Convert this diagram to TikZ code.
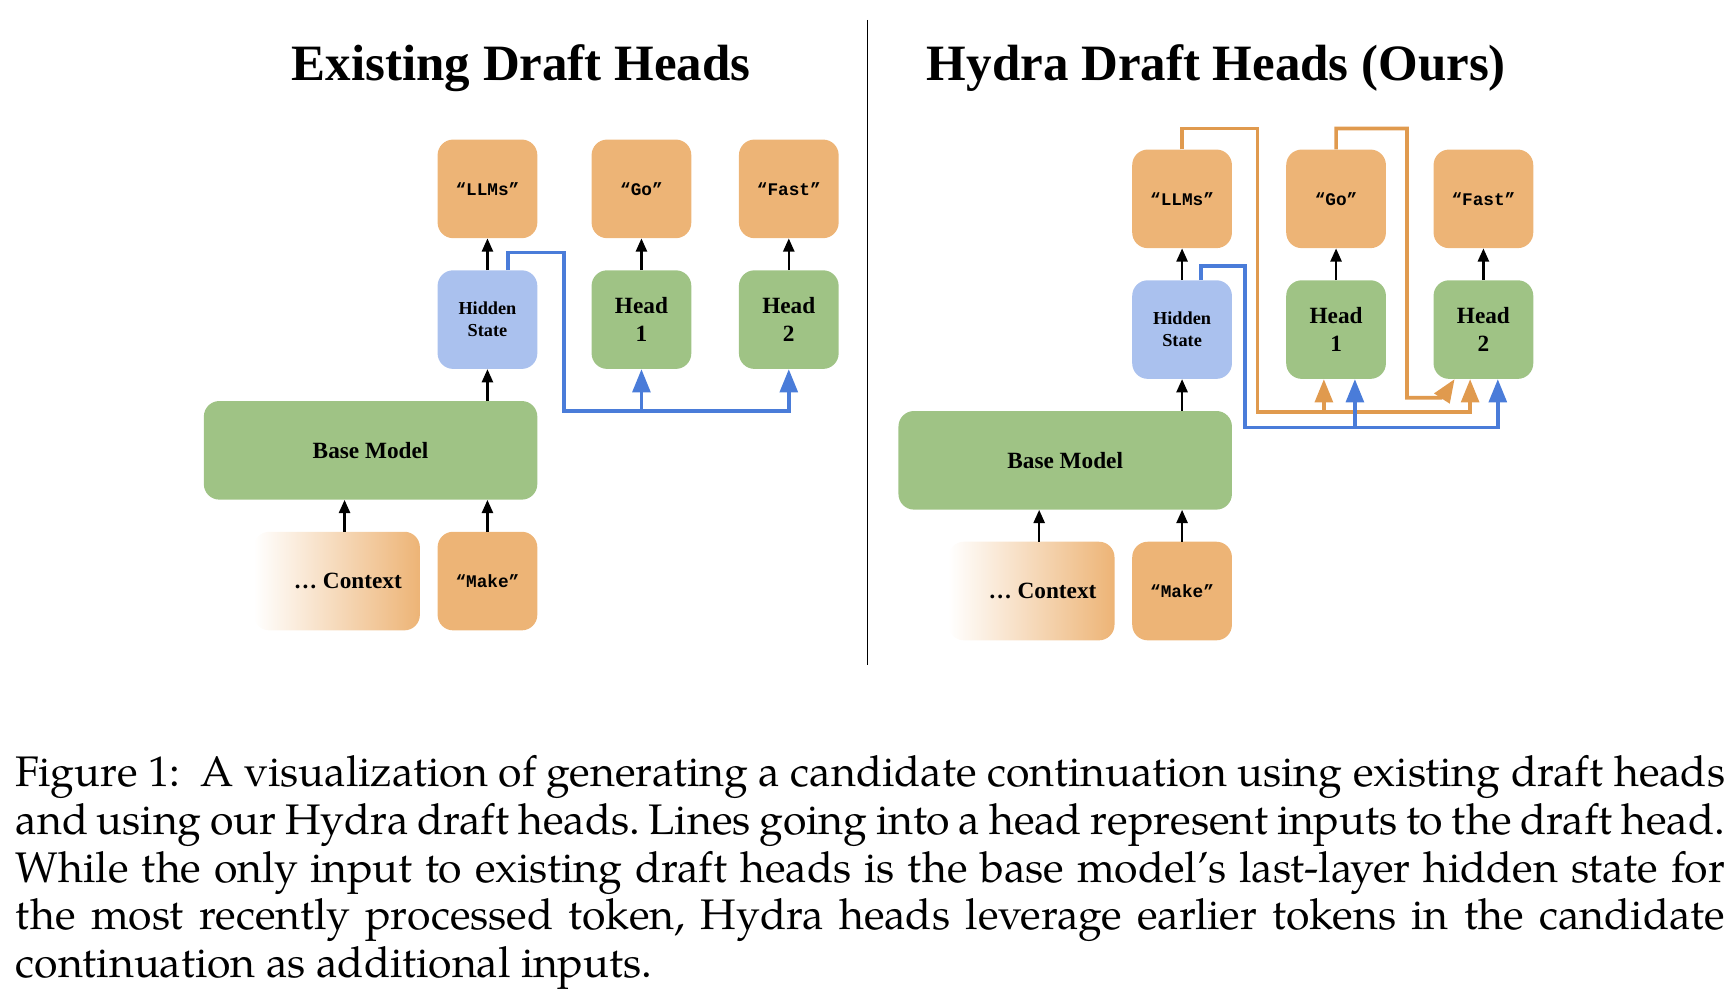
\documentclass[tikz,border=0pt]{standalone}
\usepackage{fontspec}
\setmainfont{Liberation Serif}
\newfontfamily\capfont{TeX Gyre Pagella}
\newfontfamily\tokfont{Liberation Mono}
\usetikzlibrary{arrows.meta}

\definecolor{tokorange}{RGB}{237,180,118}
\definecolor{headgreen}{RGB}{159,195,133}
\definecolor{hidblue}{RGB}{170,193,238}
\definecolor{lineblue}{RGB}{74,124,217}
\definecolor{lineorange}{RGB}{224,154,78}

\tikzset{
  cell/.style={rounded corners=14pt, minimum width=90pt, minimum height=89pt,
    inner sep=0pt, align=center, font=\bfseries\fontsize{21}{24.7}\selectfont},
  tokbox/.style={cell, fill=tokorange, font=\tokfont\bfseries\fontsize{16}{19}\selectfont},
  headbox/.style={cell, fill=headgreen},
  hidbox/.style={cell, fill=hidblue, font=\bfseries\fontsize{16.5}{20}\selectfont},
  basebox/.style={cell, fill=headgreen, minimum width=301pt},
  ctxbox/.style={cell, minimum width=150pt, left color=white, right color=tokorange},
  inarrow/.style={-{Triangle[length=12pt,width=10pt]}, line width=2.2pt},
  feedblue/.style={draw=lineblue, line width=3.3pt, -{Triangle[length=21pt,width=16pt]}},
  feedorange/.style={draw=lineorange, line width=3.3pt, -{Triangle[length=21pt,width=16pt]}},
  paneltitle/.style={anchor=base, font=\bfseries\fontsize{46}{55}\selectfont}
}

\begin{document}
\frenchspacing
\begin{tikzpicture}[node distance=118pt, x=1pt, y=1pt]
\useasboundingbox (0,-4.45) rectangle (1567,900);

% titles and divider
\node[paneltitle] (titleA) at (470.5,827) {Existing Draft Heads};
\node[paneltitle] (titleB) at (1098,827) {Hydra Draft Heads (Ours)};
\draw[line width=1.2pt] (783,882) -- (783,300);

% existing draft heads
\node[hidbox] (hidA) at (440,611.5) {Hidden\\State};
\node[tokbox] (llmA) [above of=hidA] {“LLMs”};
\node[headbox] (headA1) [right of=hidA, xshift=21pt] {Head\\1};
\node[headbox] (headA2) [right of=headA1, xshift=15pt] {Head\\2};
\node[tokbox] (goA) [above of=headA1] {“Go”};
\node[tokbox] (fastA) [above of=headA2] {“Fast”};
\node[basebox] (baseA) [below of=hidA, xshift=-105.5pt] {Base Model};
\node[tokbox] (makeA) [below of=baseA, xshift=105.5pt] {“Make”};
\node[ctxbox] (ctxA) [left of=makeA, xshift=-18pt] {\hspace*{20pt}… Context};

\draw[inarrow] (hidA) -- (llmA);
\draw[inarrow] (headA1) -- (goA);
\draw[inarrow] (headA2) -- (fastA);
\draw[inarrow] (baseA.north -| hidA) -- (hidA);
\draw[inarrow] ([xshift=7pt]ctxA.north) -- ([xshift=7pt]ctxA.north |- baseA.south);
\draw[inarrow] (makeA) -- (makeA |- baseA.south);

\coordinate (riseA) at (509,672);
\coordinate (busA) at (509,529);
\draw[feedblue] ([xshift=18.5pt]hidA.north) |- (riseA) -- (busA) -| (headA2.south);
\draw[feedblue] (headA1.south |- busA) -- (headA1.south);

% hydra draft heads
\node[hidbox] (hidB) at (1067,602.5) {Hidden\\State};
\node[tokbox] (llmB) [above of=hidB] {“LLMs”};
\node[headbox] (headB1) [right of=hidB, xshift=21pt] {Head\\1};
\node[headbox] (headB2) [right of=headB1, xshift=15pt] {Head\\2};
\node[tokbox] (goB) [above of=headB1] {“Go”};
\node[tokbox] (fastB) [above of=headB2] {“Fast”};
\node[basebox] (baseB) [below of=hidB, xshift=-105.5pt] {Base Model};
\node[tokbox] (makeB) [below of=baseB, xshift=105.5pt] {“Make”};
\node[ctxbox] (ctxB) [left of=makeB, xshift=-18pt] {\hspace*{20pt}… Context};

\draw[inarrow] (hidB) -- (llmB);
\draw[inarrow] (headB1) -- (goB);
\draw[inarrow] (headB2) -- (fastB);
\draw[inarrow] (baseB.north -| hidB) -- (hidB);
\draw[inarrow] ([xshift=7pt]ctxB.north) -- ([xshift=7pt]ctxB.north |- baseB.south);
\draw[inarrow] (makeB) -- (makeB |- baseB.south);

\coordinate (loopB1) at (1135,784);
\coordinate (obusB1) at (1135,528);
\coordinate (loopB2) at (1270,784);
\coordinate (obusB2) at (1270,541);
\coordinate (bendB2) at (1302,541);
\draw[feedorange] (llmB.north) |- (loopB1) -- (obusB1) -| ([xshift=-12pt]headB2.south);
\draw[feedorange] ([xshift=-11pt]headB1.south |- obusB1) -- ([xshift=-11pt]headB1.south);
\draw[feedorange] (goB.north) |- (loopB2) -- (obusB2) -- (bendB2) -- ([xshift=-26pt]headB2.south);

\coordinate (riseB) at (1124,660);
\coordinate (busB) at (1124,514);
\draw[feedblue] ([xshift=17pt]hidB.north) |- (riseB) -- (busB) -| ([xshift=13pt]headB2.south);
\draw[feedblue] ([xshift=17pt]headB1.south |- busB) -- ([xshift=17pt]headB1.south);

% caption
\node[anchor=north west, inner sep=0pt, align=left,
  font=\capfont\fontsize{38.6}{43}\selectfont] (caption) at (14,218) {%
\hbox to 1543pt{Figure 1:\hspace{18pt}A visualization of generating a candidate continuation using existing draft heads}\\
\hbox to 1543pt{and using our Hydra draft heads. Lines going into a head represent inputs to the draft head.}\\
\hbox to 1543pt{While the only input to existing draft heads is the base model’s last-layer hidden state for}\\
\hbox to 1543pt{the most recently processed token, Hydra heads leverage earlier tokens in the candidate}\\
continuation as additional inputs.};
\end{tikzpicture}
\end{document}
